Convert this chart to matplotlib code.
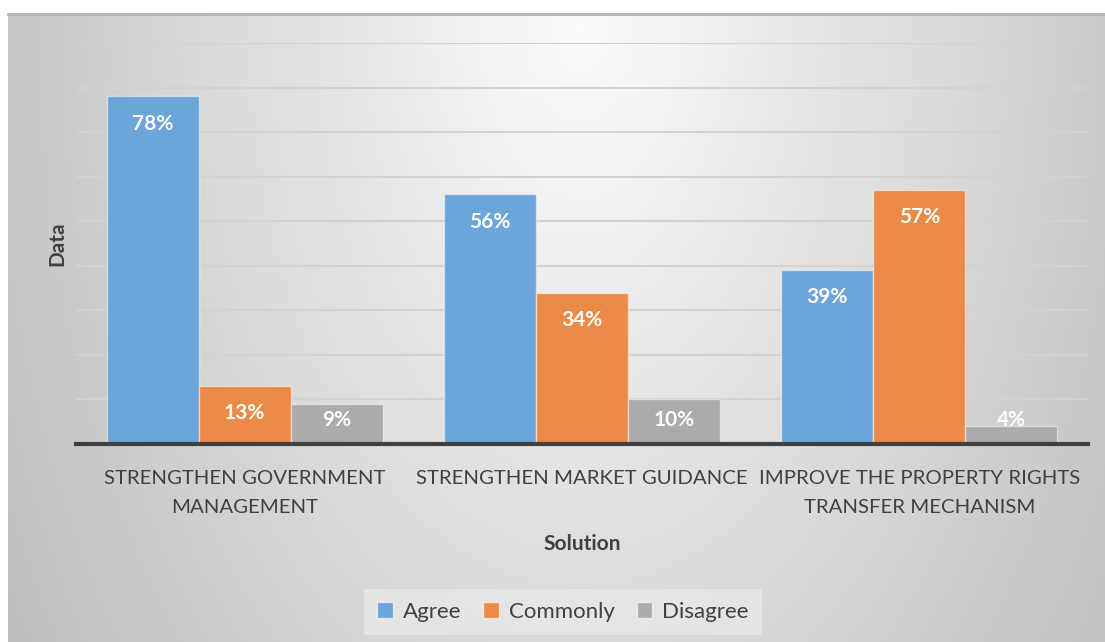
import numpy as np
import matplotlib
matplotlib.use("Agg")
import matplotlib.pyplot as plt
from matplotlib.patches import Patch

plt.rcParams['font.family'] = ['Lato', 'DejaVu Sans']

categories = ["STRENGTHEN GOVERNMENT\nMANAGEMENT",
              "STRENGTHEN MARKET GUIDANCE",
              "IMPROVE THE PROPERTY RIGHTS\nTRANSFER MECHANISM"]
series_names = ["Agree", "Commonly", "Disagree"]
agree = [0.78, 0.56, 0.39]
commonly = [0.13, 0.34, 0.57]
disagree = [0.09, 0.10, 0.04]
colors = ["#6ca5d9", "#ec8a47", "#ababab"]

W, H = 1105, 642
fig = plt.figure(figsize=(W / 100, H / 100), dpi=100)
fig.patch.set_facecolor("white")

# chart area background: radial grey gradient
bg = fig.add_axes([8 / W, 0, 1 - 8 / W, (H - 14) / H], zorder=0)
yy, xx = np.mgrid[14:H, 8:W]
d = np.sqrt(((xx - 580) / 560.0) ** 2 + ((yy - 30) / 940.0) ** 2)
val = np.clip(0.985 - 0.2 * d, 0.74, 1.0)
bg.imshow(np.dstack([val, val, val]), aspect="auto", extent=[0, 1, 0, 1])
bg.axis("off")
fig.add_artist(plt.Line2D([8 / W, 1], [(H - 14) / H] * 2, color="#b4b4b4", lw=2))

ax = fig.add_axes([76 / W, 198 / H, (1088 - 76) / W, (444 - 43) / H], zorder=1)
ax.patch.set_alpha(0)

x = np.arange(len(categories))
bw = 0.273
all_series = [agree, commonly, disagree]
for i, (name, vals) in enumerate(zip(series_names, all_series)):
    pos = x + (i - 1) * bw
    ax.bar(pos, vals, width=bw, color=colors[i], edgecolor="#ffffff80",
           linewidth=1, label=name, zorder=3)
    for px, v in zip(pos, vals):
        ly = max(v - 0.061, 0.054)
        ax.text(px, ly, f"{round(v * 100)}%", ha="center", va="center",
                color="white", fontsize=15, fontweight="bold", zorder=4)

ax.set_xlim(-0.5, 2.5)
ax.set_ylim(0, 0.9)
ax.set_yticks(np.arange(0.1, 0.91, 0.1))
ax.yaxis.grid(True, color="#d2d2d2", lw=1.5, zorder=0)
ax.tick_params(axis="y", length=0, labelleft=False)
ax.set_xticks(x)
ax.set_xticklabels(categories, fontsize=14.7, color="#404040", linespacing=1.8)
ax.tick_params(axis="x", length=0, pad=19)
for s in ["top", "right", "left"]:
    ax.spines[s].set_visible(False)
ax.spines["bottom"].set_color("#404040")
ax.spines["bottom"].set_linewidth(3)
ax.spines["bottom"].set_zorder(5)

ax.set_ylabel("Data", fontsize=15, fontweight="bold", color="#404040", labelpad=6)
ax.set_xlabel("Solution", fontsize=15, fontweight="bold", color="#404040", labelpad=13)

handles = [Patch(facecolor=c, edgecolor="#ffffffa0") for c in colors]
leg = fig.legend(handles, series_names, loc="center", bbox_to_anchor=(563 / W, 1 - 612 / H),
                 ncol=3, frameon=True, fontsize=16, handlelength=0.7, handleheight=0.7,
                 columnspacing=1.0, handletextpad=0.45, borderpad=0.6, fancybox=False)
leg.get_frame().set_facecolor("#e8e8e8")
leg.get_frame().set_edgecolor("none")
for t in leg.get_texts():
    t.set_color("#404040")

fig.savefig("out.png", dpi=100)
